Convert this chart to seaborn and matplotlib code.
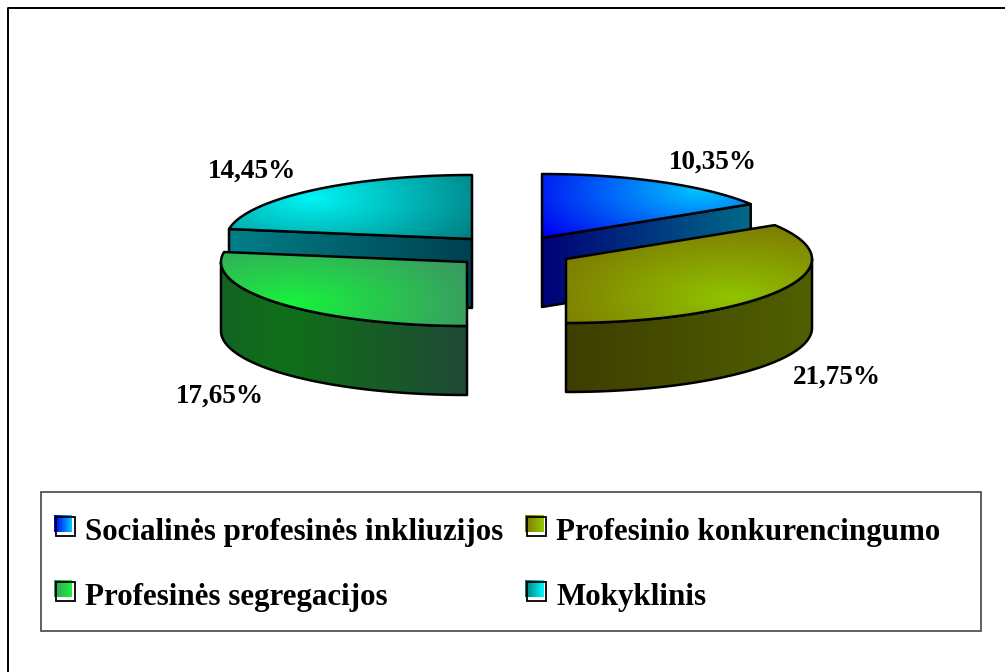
import numpy as np
import seaborn as sns
import matplotlib.pyplot as plt
from matplotlib.patches import Rectangle, Patch
from matplotlib.path import Path
from matplotlib.legend_handler import HandlerBase

categories = ["Socialinės profesinės inkliuzijos", "Profesinio konkurencingumo",
              "Profesinės segregacijos", "Mokyklinis"]
values = [10.35, 21.75, 17.65, 14.45]
value_labels = ["10,35%", "21,75%", "17,65%", "14,45%"]

# slice look: top surface (bright point colour, far colour), wall (left, right)
top_colors = [("#00c4ff", "#0000f0"), ("#90c400", "#7e7a00"),
              ("#18f23c", "#3a9a62"), ("#00f4f4", "#007c80")]
wall_colors = [("#000078", "#006a88"), ("#3e3e00", "#506000"),
               ("#0f7018", "#1f4a35"), ("#008088", "#004050")]

# pie layout in pixels
centers = [(542, 238), (566, 259), (467, 262), (472, 239)]
bright_points = [(700, 190), (730, 297), (293, 303), (313, 198)]
label_pos = [(713, 162), (836.5, 377), (219.5, 396), (251.5, 171)]
rx, ry, depth = 246, 64, 69

sns.set_theme(style="white")
plt.rcParams["font.family"] = ["Liberation Serif", "DejaVu Serif"]
plt.rcParams["font.weight"] = "bold"

W, H = 1005, 672
fig = plt.figure(figsize=(W / 100, H / 100), dpi=100, facecolor="white")
ax = fig.add_axes([0, 0, 1, 1])
ax.set_xlim(0, W)
ax.set_ylim(H, 0)
ax.axis("off")

# slice angles come from the shares, clockwise from the top
shares = np.array(values) / np.sum(values) * 360
ends = 90 - np.cumsum(shares)
starts = ends + shares

xx, yy = np.meshgrid(np.arange(W) + 0.5, np.arange(H) + 0.5)


def arc(cx, cy, a0, a1):
    t = np.radians(np.linspace(a0, a1, 120))
    return np.column_stack([cx + rx * np.cos(t), cy - ry * np.sin(t)])


def paint(verts, img, cmap, z):
    verts = np.asarray(verts)
    im = ax.imshow(img, extent=(0, W, H, 0), cmap=cmap, vmin=0, vmax=1,
                   aspect="auto", zorder=z, interpolation="bilinear")
    im.set_clip_path(Path(np.vstack([verts, verts[:1]])), ax.transData)
    ax.fill(verts[:, 0], verts[:, 1], facecolor="none", edgecolor="black", lw=1.8,
            zorder=z + 0.1, joinstyle="round")


def draw_slice(i, z):
    cx, cy = centers[i]
    top_map = sns.blend_palette(top_colors[i], n_colors=256, as_cmap=True)
    wall_map = sns.blend_palette(wall_colors[i], n_colors=256, as_cmap=True)
    outer = arc(cx, cy, starts[i], ends[i])

    if i in (0, 3):
        # back slices show the flat face at their cut
        p = outer[-1] if i == 0 else outer[0]
        quad = [(cx, cy), tuple(p), (p[0], p[1] + depth), (cx, cy + depth)]
        lo, hi = min(cx, p[0]), max(cx, p[0])
        paint(quad, np.clip((xx - lo) / (hi - lo), 0, 1), wall_map, z)
    else:
        # front slices show the rim
        rim = arc(cx, cy, 0, -90) if i == 1 else arc(cx, cy, -90, -180)
        wall = np.vstack([rim, (rim + [0, depth])[::-1]])
        if i == 1:
            g = np.clip((xx - cx) / rx, 0, 1)
        else:
            g = np.clip(np.abs(xx - 285) / 180, 0, 1)
        paint(wall, g, wall_map, z)

    bx, by = bright_points[i]
    g = np.clip(np.hypot((xx - bx) / 190, (yy - by) / 75), 0, 1)
    paint(np.vstack([[cx, cy], outer]), g, top_map, z + 0.2)


for z, i in enumerate([3, 0, 2, 1]):
    draw_slice(i, 2 + z)

for pos, txt in zip(label_pos, value_labels):
    ax.text(pos[0], pos[1], txt, fontsize=19.5, fontweight="bold", color="black",
            ha="center", va="center", zorder=10)

# only the top and left page lines are in the picture
ax.plot([W, 8, 8], [8, 8, H], color="black", lw=1.4, zorder=1)
ax.add_patch(Rectangle((40.5, 491.5), 940, 139, fill=False, edgecolor="#444444", lw=1.2, zorder=1))


class SwatchHandler(HandlerBase):
    # gradient square with a black outline shifted down and right (sizes in points)
    def create_artists(self, legend, orig, x, y, w, h, fontsize, trans):
        pal = sns.blend_palette(orig.get_gid().split(","), n_colors=12)
        art = []
        for k, c in enumerate(pal):
            art.append(Rectangle((k * 13 / 12, 5.7), 13 / 12 + 0.2, 12.2, facecolor=c,
                                 edgecolor="none", transform=trans))
        art.append(Rectangle((1.5, 2.9), 13.5, 13.5, fill=False, edgecolor="black",
                             lw=1.3, transform=trans))
        return art


handles = []
for i in range(4):
    h = Patch(label=categories[i])
    h.set_gid(top_colors[i][1] + "," + top_colors[i][0])
    handles.append(h)

# legend fills columns first, so order the rows by hand
order = [0, 2, 1, 3]
ax.legend([handles[i] for i in order], [categories[i] for i in order], ncol=2,
          loc="upper left", bbox_to_anchor=(54, 517.5), bbox_transform=ax.transData,
          frameon=False, borderpad=0, borderaxespad=0, handlelength=0.7,
          handleheight=0.8, handletextpad=0.3, labelspacing=1.13, columnspacing=0.715,
          handler_map={Patch: SwatchHandler()}, labelcolor="black",
          prop={"family": "Liberation Serif", "weight": "bold", "size": 22.3})

fig.savefig("out.png", dpi=100)
